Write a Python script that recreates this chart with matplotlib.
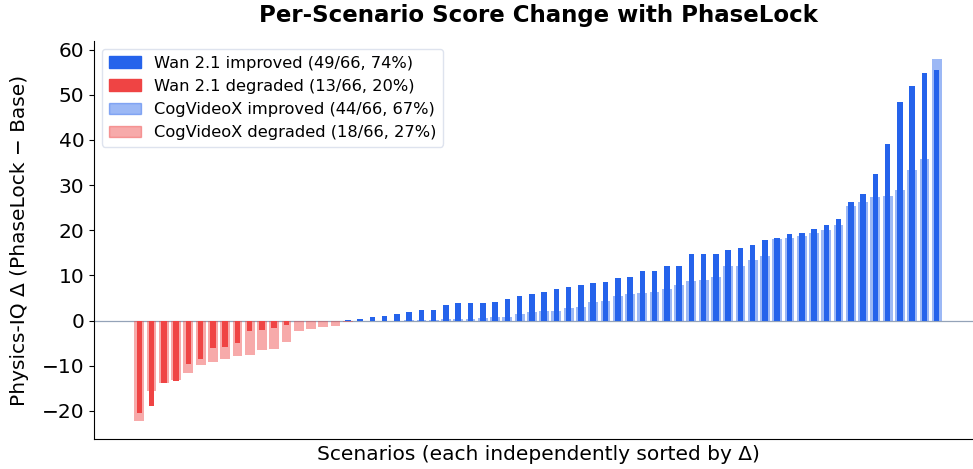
import matplotlib
matplotlib.use("Agg")
import matplotlib.pyplot as plt
import numpy as np

# per-scenario delta (PhaseLock - Base), each model sorted on its own
wan_delta = [-20.35, -18.8, -13.8, -13.3, -9.65, -8.6, -6.1, -5.75, -5.0, -2.2,
             -2.1, -1.6, -1.0, 0, 0, 0, 0, 0.1, 0.35, 0.8,
             1.1, 1.4, 1.85, 2.3, 2.4, 3.45, 3.8, 3.83, 3.85, 4.2,
             4.72, 5.46, 5.9, 6.4, 6.9, 7.45, 7.8, 8.26, 8.55, 9.5,
             9.7, 10.9, 10.9, 12.2, 12.2, 14.7, 14.7, 14.75, 15.56, 16.0,
             16.8, 17.8, 18.3, 19.25, 19.5, 20.2, 21.2, 22.4, 26.3, 27.95,
             32.5, 39.2, 48.3, 51.9, 54.8, 55.5]
cog_delta = [-22.2, -15.55, -13.9, -13.2, -11.5, -9.8, -9.2, -8.55, -7.9, -7.6,
             -6.55, -6.3, -4.7, -2.3, -1.8, -1.3, -1.1, -0.4, 0, 0,
             0, 0, 0.1, 0.15, 0.2, 0.3, 0.3, 0.45, 0.55, 0.74,
             0.8, 1.5, 1.8, 2.1, 2.2, 2.9, 3.1, 4.2, 4.4, 5.46,
             5.8, 6.1, 6.34, 6.9, 7.9, 8.8, 9.0, 9.66, 12.0, 12.2,
             13.4, 14.4, 18.1, 18.2, 18.7, 19.5, 20.1, 21.1, 25.4, 26.3,
             27.3, 27.6, 28.9, 33.3, 35.8, 57.9]

BLUE = "#2563eb"
RED = "#ef4444"

wan = np.array(wan_delta)
cog = np.array(cog_delta)
n = len(wan)
x = np.arange(n)

fig = plt.figure(figsize=(9.73, 4.69), dpi=100)
ax = fig.add_axes([94 / 973, 30 / 469, 888 / 973, 398 / 469])

# CogVideoX behind (wider, light), Wan 2.1 on top (narrow, solid)
cog_cols = [BLUE if v > 0 else RED for v in cog]
ax.bar(x, cog, width=0.8, color=cog_cols, alpha=0.45, zorder=2)
wan_cols = [BLUE if v > 0 else RED for v in wan]
ax.bar(x, wan, width=0.45, color=wan_cols, zorder=3)

ax.axhline(0, color="#94a3b8", lw=0.9, zorder=1)

def lab(name, arr, up):
    k = int((arr > 0).sum()) if up else int((arr < 0).sum())
    word = "improved" if up else "degraded"
    return f"{name} {word} ({k}/{n}, {round(100 * k / n)}%)"

handles = [
    plt.Rectangle((0, 0), 1, 1, color=BLUE),
    plt.Rectangle((0, 0), 1, 1, color=RED),
    plt.Rectangle((0, 0), 1, 1, color=BLUE, alpha=0.45),
    plt.Rectangle((0, 0), 1, 1, color=RED, alpha=0.45),
]
labels = [lab("Wan 2.1", wan, True), lab("Wan 2.1", wan, False),
          lab("CogVideoX", cog, True), lab("CogVideoX", cog, False)]
leg = ax.legend(handles, labels, loc="upper left", fontsize=11.7)
leg.get_frame().set_edgecolor("#d6dcea")

ax.set_xticks([])
ax.spines["top"].set_visible(False)
ax.spines["right"].set_visible(False)
ax.tick_params(axis="y", labelsize=14.5)
ax.set_xlabel("Scenarios (each independently sorted by Δ)", fontsize=14.5)
ax.set_ylabel("Physics-IQ Δ (PhaseLock − Base)", fontsize=14.5, labelpad=9)
ax.set_title("Per-Scenario Score Change with PhaseLock", fontsize=16.5,
             fontweight="bold", pad=13.5)

fig.savefig("out.png", dpi=100)
